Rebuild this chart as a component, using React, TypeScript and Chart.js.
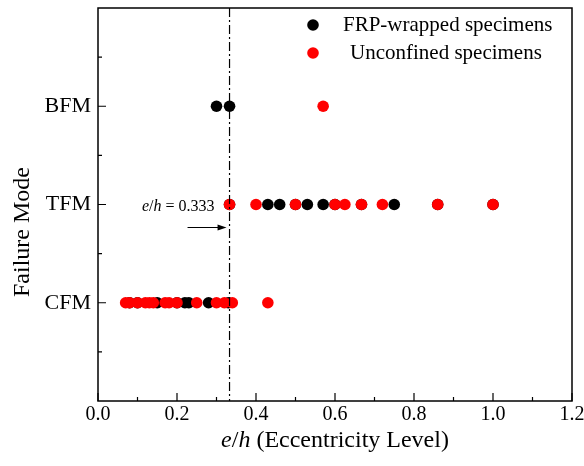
import React, { useEffect, useRef } from "react";
import { Chart, registerables } from "chart.js";

Chart.register(...registerables);

const modeLabels: Record<number, string> = { 1: "CFM", 2: "TFM", 3: "BFM" };
const xTicks = [0, 0.2, 0.4, 0.6, 0.8, 1.0, 1.2];
const xMinorTicks = [0.1, 0.3, 0.5, 0.7, 0.9, 1.1];
const yMajorTicks = [1, 2, 3];
const yMinorTicks = [0.5, 1.5, 2.5, 3.5];

// FRP-wrapped specimens: eccentricity by failure mode
const frpCFM = [0.08, 0.1, 0.15, 0.2, 0.22, 0.23, 0.28, 0.33];
const frpTFM = [0.333, 0.43, 0.46, 0.5, 0.53, 0.57, 0.6, 0.667, 0.75, 0.86, 1.0];
const frpBFM = [0.3, 0.333];
// Unconfined specimens
const uncCFM = [0.07, 0.08, 0.1, 0.12, 0.13, 0.14, 0.17, 0.18, 0.2, 0.25, 0.3, 0.32, 0.34, 0.43];
const uncTFM = [0.333, 0.4, 0.5, 0.6, 0.625, 0.667, 0.72, 0.86, 1.0];
const uncBFM = [0.57];

const limitValue = 0.333;
const SERIF = "'Liberation Serif', 'Times New Roman', serif";

function toPoints(cfm: number[], tfm: number[], bfm: number[]) {
  return [
    ...cfm.map((x) => ({ x, y: 1 })),
    ...tfm.map((x) => ({ x, y: 2 })),
    ...bfm.map((x) => ({ x, y: 3 })),
  ];
}

function drawMixed(ctx: any, parts: { t: string; it: boolean }[], size: number, x: number, y: number, align: "left" | "center" | "right") {
  let total = 0;
  parts.forEach((p) => {
    ctx.font = `${p.it ? "italic " : ""}${size}px ${SERIF}`;
    total += ctx.measureText(p.t).width;
  });
  let px = align === "left" ? x : align === "center" ? x - total / 2 : x - total;
  ctx.textAlign = "left";
  parts.forEach((p) => {
    ctx.font = `${p.it ? "italic " : ""}${size}px ${SERIF}`;
    ctx.fillText(p.t, px, y);
    px += ctx.measureText(p.t).width;
  });
}

const decorPlugin = {
  id: "decor",
  afterDatasetsDraw(chart: any) {
    const { ctx, chartArea: a, scales } = chart;
    const xs = scales.x;
    const lx = xs.getPixelForValue(limitValue);
    ctx.save();
    ctx.strokeStyle = "#000";
    ctx.lineWidth = 1.2;
    ctx.setLineDash([9, 3, 2, 3]);
    ctx.beginPath();
    ctx.moveTo(lx, a.top);
    ctx.lineTo(lx, a.bottom);
    ctx.stroke();
    ctx.restore();
  },
  afterDraw(chart: any) {
    const { ctx, chartArea: a, scales } = chart;
    const xs = scales.x;
    const ys = scales.y;
    ctx.save();
    ctx.strokeStyle = "#000";
    ctx.lineWidth = 1.5;
    ctx.strokeRect(a.left, a.top, a.right - a.left, a.bottom - a.top);
    ctx.lineWidth = 1.2;
    ctx.beginPath();
    xTicks.forEach((v) => {
      const p = xs.getPixelForValue(v);
      ctx.moveTo(p, a.bottom);
      ctx.lineTo(p, a.bottom - 8);
    });
    xMinorTicks.forEach((v) => {
      const p = xs.getPixelForValue(v);
      ctx.moveTo(p, a.bottom);
      ctx.lineTo(p, a.bottom - 4);
    });
    yMajorTicks.forEach((v) => {
      const p = ys.getPixelForValue(v);
      ctx.moveTo(a.left, p);
      ctx.lineTo(a.left + 8, p);
    });
    yMinorTicks.forEach((v) => {
      const p = ys.getPixelForValue(v);
      ctx.moveTo(a.left, p);
      ctx.lineTo(a.left + 4, p);
    });
    ctx.stroke();

    // annotation text e/h = 0.333
    const lx = xs.getPixelForValue(limitValue);
    const ty = ys.getPixelForValue(2) + 2;
    ctx.fillStyle = "#000";
    ctx.textBaseline = "middle";
    drawMixed(
      ctx,
      [
        { t: "e", it: true },
        { t: "/", it: false },
        { t: "h", it: true },
        { t: " = 0.333", it: false },
      ],
      16,
      lx - 15,
      ty,
      "right"
    );

    // arrow
    const ay = ty + 21;
    ctx.lineWidth = 1;
    ctx.beginPath();
    ctx.moveTo(lx - 42, ay);
    ctx.lineTo(lx - 6, ay);
    ctx.stroke();
    ctx.beginPath();
    ctx.moveTo(lx - 3, ay);
    ctx.lineTo(lx - 12, ay - 3);
    ctx.lineTo(lx - 12, ay + 3);
    ctx.closePath();
    ctx.fill();

    // legend
    const items = [
      { label: "FRP-wrapped specimens", color: "#000000", dx: 0 },
      { label: "Unconfined specimens", color: "#ff0000", dx: 7 },
    ];
    ctx.font = `21px ${SERIF}`;
    ctx.textAlign = "left";
    items.forEach((it, i) => {
      const y = 25 + i * 28;
      ctx.fillStyle = it.color;
      ctx.beginPath();
      ctx.arc(313, y, 5.8, 0, Math.PI * 2);
      ctx.fill();
      ctx.fillStyle = "#000";
      ctx.fillText(it.label, 343 + it.dx, y);
    });

    // y title
    ctx.save();
    ctx.translate(23, 232);
    ctx.rotate(-Math.PI / 2);
    ctx.textAlign = "center";
    ctx.font = `24px ${SERIF}`;
    ctx.fillText("Failure Mode", 0, 0);
    ctx.restore();

    // x title
    drawMixed(
      ctx,
      [
        { t: "e", it: true },
        { t: "/", it: false },
        { t: "h", it: true },
        { t: " (Eccentricity Level)", it: false },
      ],
      24,
      (a.left + a.right) / 2,
      441,
      "center"
    );
    ctx.restore();
  },
};

export default function App() {
  const ref = useRef<HTMLCanvasElement>(null);
  useEffect(() => {
    document.body.style.margin = "0";
    const canvas = ref.current!;
    const chart = new Chart(canvas, {
      type: "scatter",
      data: {
        datasets: [
          {
            label: "FRP-wrapped specimens",
            data: toPoints(frpCFM, frpTFM, frpBFM),
            backgroundColor: "#000000",
            borderWidth: 0,
            pointRadius: 5.8,
            order: 1,
          },
          {
            label: "Unconfined specimens",
            data: toPoints(uncCFM, uncTFM, uncBFM),
            backgroundColor: "#ff0000",
            borderWidth: 0,
            pointRadius: 5.8,
            order: 0,
          },
        ],
      },
      options: {
        responsive: false,
        animation: false,
        layout: { padding: { top: 8, right: 12, left: 0, bottom: 0 } },
        plugins: { legend: { display: false }, tooltip: { enabled: false } },
        scales: {
          x: {
            type: "linear",
            min: 0,
            max: 1.2,
            grid: { display: false },
            border: { display: false },
            ticks: {
              stepSize: 0.2,
              padding: -6,
              color: "#000",
              font: { family: SERIF, size: 20 },
              maxRotation: 0,
              callback: (v: any) => Number(v).toFixed(1),
            },
            afterFit: (s: any) => {
              s.height = 65;
              s.paddingLeft = 0;
              s.paddingRight = 0;
            },
          },
          y: {
            type: "linear",
            min: 0,
            max: 4.0,
            grid: { display: false },
            border: { display: false },
            afterBuildTicks: (s: any) => {
              s.ticks = yMajorTicks.map((v) => ({ value: v }));
            },
            ticks: {
              padding: -1,
              color: "#000",
              font: { family: SERIF, size: 22 },
              callback: (v: any) => modeLabels[Number(v)] ?? "",
            },
            afterFit: (s: any) => {
              s.width = 98;
              s.paddingTop = 0;
              s.paddingBottom = 0;
            },
          },
        },
      },
      plugins: [decorPlugin],
    });
    return () => chart.destroy();
  }, []);
  return <canvas ref={ref} width={584} height={466} style={{ display: "block" }} />;
}
